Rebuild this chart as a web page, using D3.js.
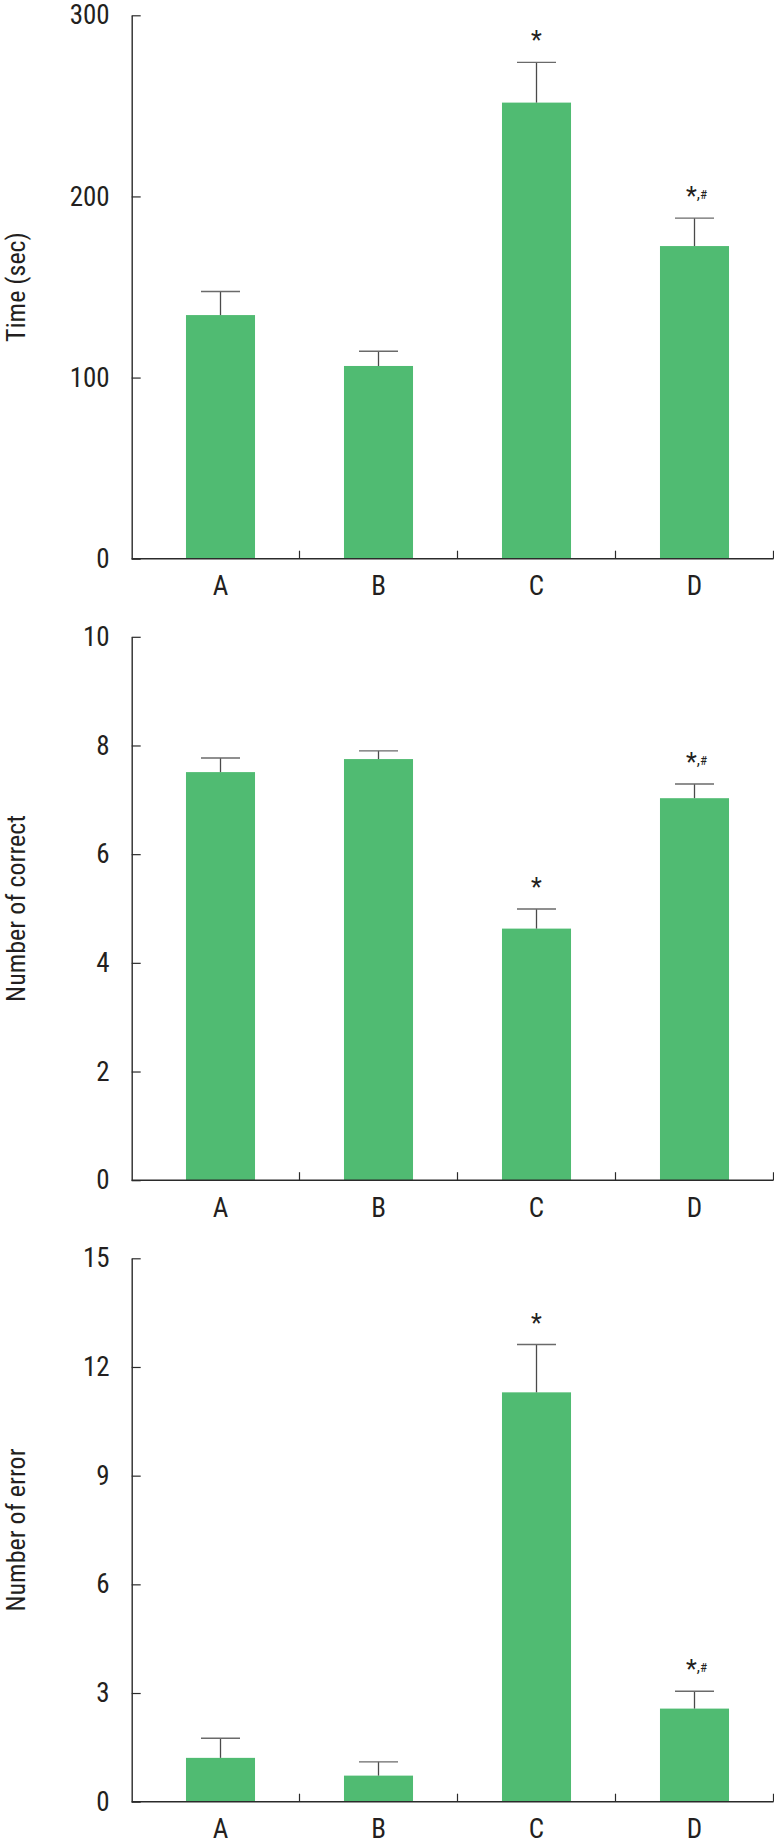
<!DOCTYPE html>
<html>
<head>
<meta charset="utf-8">
<script src="https://cdn.jsdelivr.net/npm/d3@7"></script>
<style>
  html, body { margin: 0; padding: 0; background: #fff; }
  svg { display: block; }
  text { font-family: "Liberation Sans Narrow", "Roboto Condensed", "DejaVu Sans Condensed", sans-serif; fill: #231f20; }
</style>
</head>
<body>
<svg id="chart" width="774" height="1844"></svg>
<script>
// ---- data ----
const categories = ["A", "B", "C", "D"];
const timeMean = [134.5, 106.4, 251.8, 172.6];
const timeSem = [13.0, 8.1, 22.2, 15.4];
const correctMean = [7.51, 7.75, 4.63, 7.03];
const correctSem = [0.26, 0.15, 0.36, 0.26];
const errorMean = [1.21, 0.72, 11.30, 2.57];
const errorSem = [0.54, 0.38, 1.32, 0.48];
const significance = ["", "", "*", "*,#"];
const timeTicks = [0, 100, 200, 300];
const correctTicks = [0, 2, 4, 6, 8, 10];
const errorTicks = [0, 3, 6, 9, 12, 15];
const timeLabel = "Time (sec)";
const correctLabel = "Number of correct";
const errorLabel = "Number of error";

// ---- layout ----
const svg = d3.select("#chart");
const plotLeft = 131.7;
const plotRight = 773.5;
const bandStart = 141.5;
const plotH = 543.4;
const panelTops = [15.3, 636.8, 1258.3];
const barColor = "#50bb72";
const axisColor = "#2b2b2b";
const errColor = "#4a4a4a";
const fontSize = 27;

const panels = [
  { mean: timeMean, sem: timeSem, ticks: timeTicks, max: 300, label: timeLabel },
  { mean: correctMean, sem: correctSem, ticks: correctTicks, max: 10, label: correctLabel },
  { mean: errorMean, sem: errorSem, ticks: errorTicks, max: 15, label: errorLabel }
];

const x = d3.scaleBand()
  .domain(categories)
  .range([bandStart, plotRight])
  .paddingInner(0.563)
  .paddingOuter(0.2815);
const bw = x.bandwidth();
const step = x.step();

panels.forEach((p, pi) => {
  const top = panelTops[pi];
  const bottom = top + plotH;
  const y = d3.scaleLinear().domain([0, p.max]).range([bottom, top]);
  const g = svg.append("g");

  // y axis
  const yAxis = d3.axisLeft(y)
    .tickValues(p.ticks)
    .tickSizeInner(-9)
    .tickSizeOuter(0)
    .tickPadding(22)
    .tickFormat(d3.format("d"));
  const ya = g.append("g")
    .attr("transform", `translate(${plotLeft},0)`)
    .call(yAxis);
  ya.select(".domain").attr("stroke", axisColor).attr("stroke-width", 1.4);
  ya.selectAll(".tick line").attr("stroke", axisColor).attr("stroke-width", 1.2);
  ya.selectAll(".tick text")
    .attr("font-size", fontSize)
    .attr("font-family", null)
    .style("fill", "#231f20");

  // y label
  g.append("text")
    .attr("transform", `translate(25,${(top + bottom) / 2}) rotate(-90)`)
    .attr("text-anchor", "middle")
    .attr("font-size", 26)
    .text(p.label);

  // bars
  const data = categories.map((c, i) => ({ c, m: p.mean[i], s: p.sem[i], sig: significance[i] }));
  g.selectAll("rect.bar").data(data).enter().append("rect")
    .attr("class", "bar")
    .attr("x", d => x(d.c))
    .attr("width", bw)
    .attr("y", d => y(d.m))
    .attr("height", d => y(0) - y(d.m))
    .attr("fill", barColor);

  // error bars
  const capHalf = 19.5;
  g.selectAll("line.err").data(data).enter().append("line")
    .attr("x1", d => x(d.c) + bw / 2)
    .attr("x2", d => x(d.c) + bw / 2)
    .attr("y1", d => y(d.m))
    .attr("y2", d => y(d.m + d.s))
    .attr("stroke", errColor).attr("stroke-width", 1.3);
  g.selectAll("line.cap").data(data).enter().append("line")
    .attr("x1", d => x(d.c) + bw / 2 - capHalf)
    .attr("x2", d => x(d.c) + bw / 2 + capHalf)
    .attr("y1", d => y(d.m + d.s))
    .attr("y2", d => y(d.m + d.s))
    .attr("stroke", "#6a6a6a").attr("stroke-width", 1.4);

  // significance marks
  const sigG = g.selectAll("text.sig").data(data.filter(d => d.sig)).enter().append("text")
    .attr("class", "sig")
    .attr("x", d => x(d.c) + bw / 2 + (d.sig.length > 1 ? 2 : 0))
    .attr("y", d => y(d.m + d.s) - 13)
    .attr("text-anchor", "middle")
    .attr("font-size", 25);
  sigG.each(function(d) {
    const t = d3.select(this);
    const parts = d.sig.split(",");
    t.append("tspan").text(parts[0]);
    if (parts.length > 1) {
      t.append("tspan").text(",").attr("font-size", 16).attr("dy", -6);
      t.append("tspan").text(parts[1]).attr("font-size", 13).attr("dy", 0);
    }
  });

  // x axis line
  g.append("line")
    .attr("x1", plotLeft).attr("x2", plotRight)
    .attr("y1", bottom).attr("y2", bottom)
    .attr("stroke", axisColor).attr("stroke-width", 1.4);
  // separator ticks between categories
  g.selectAll("line.sep").data(categories).enter().append("line")
    .attr("x1", d => x(d) + bw + (step - bw) / 2)
    .attr("x2", d => x(d) + bw + (step - bw) / 2)
    .attr("y1", bottom).attr("y2", bottom - 8)
    .attr("stroke", axisColor).attr("stroke-width", 1.2);
  // category labels
  g.selectAll("text.cat").data(categories).enter().append("text")
    .attr("x", d => x(d) + bw / 2)
    .attr("y", bottom + 36.5)
    .attr("text-anchor", "middle")
    .attr("font-size", fontSize)
    .text(d => d);
});
</script>
</body>
</html>
